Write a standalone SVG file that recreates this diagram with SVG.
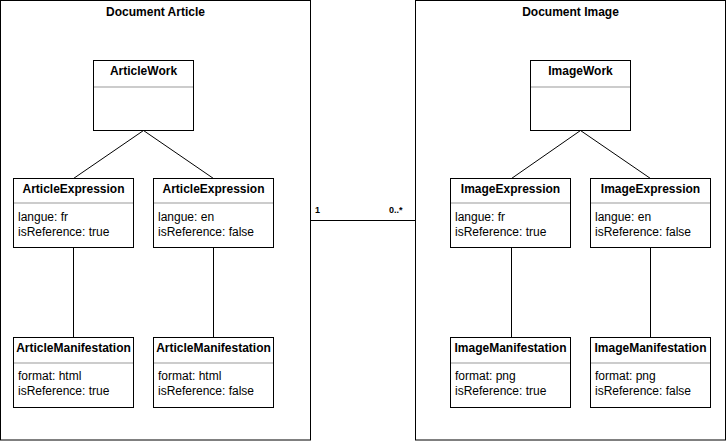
<svg xmlns="http://www.w3.org/2000/svg" width="727" height="444" viewBox="0 0 727 444">
<style>
.pkg{fill:#fff;stroke:#000;stroke-width:1}
.box{fill:#fff;stroke:#000;stroke-width:1}
.sep{stroke:#999;stroke-width:1}
.ln{stroke:#000;stroke-width:1;fill:none}
text{font-family:"Liberation Sans",Arial,sans-serif;font-size:12px;fill:#000}
.t{font-weight:bold;text-anchor:middle}
.m{font-weight:bold;font-size:9px}
</style>
<rect width="727" height="444" fill="#fff"/>
<g id="pkg-article">
<rect class="pkg" x="0.5" y="0.5" width="310" height="439.5"/>
<text class="t" x="155.5" y="16">Document Article</text>
</g>
<g id="pkg-image">
<rect class="pkg" x="415.5" y="0.5" width="310" height="439.5"/>
<text class="t" x="570.5" y="16">Document Image</text>
</g>
<g id="connectors">
<line class="ln" x1="143.5" y1="130.5" x2="73.5" y2="178.5"/>
<line class="ln" x1="143.5" y1="130.5" x2="213.5" y2="178.5"/>
<line class="ln" x1="73.5" y1="247.5" x2="73.5" y2="337.5"/>
<line class="ln" x1="213.5" y1="247.5" x2="213.5" y2="337.5"/>
<line class="ln" x1="580.5" y1="130.5" x2="511.5" y2="178.5"/>
<line class="ln" x1="580.5" y1="130.5" x2="650.5" y2="178.5"/>
<line class="ln" x1="511.5" y1="247.5" x2="511.5" y2="337.5"/>
<line class="ln" x1="650.5" y1="247.5" x2="650.5" y2="337.5"/>
<line class="ln" x1="310.5" y1="220.5" x2="415.5" y2="220.5"/>
<text class="m" x="315" y="213">1</text>
<text class="m" x="389" y="213">0..*</text>
</g>
<g id="ArticleWork">
<rect class="box" x="93.5" y="60.5" width="100" height="70"/>
<line class="sep" x1="94" y1="87" x2="193" y2="87"/>
<text class="t" x="143.5" y="75">ArticleWork</text>
</g>
<g id="ArticleExpression-fr">
<rect class="box" x="13.5" y="178.5" width="120" height="69"/>
<line class="sep" x1="14" y1="203" x2="133" y2="203"/>
<text class="t" x="73.5" y="193">ArticleExpression</text>
<text x="18" y="221">langue: fr</text>
<text x="18" y="236">isReference: true</text>
</g>
<g id="ArticleExpression-en">
<rect class="box" x="153.5" y="178.5" width="120" height="69"/>
<line class="sep" x1="154" y1="203" x2="273" y2="203"/>
<text class="t" x="213.5" y="193">ArticleExpression</text>
<text x="158" y="221">langue: en</text>
<text x="158" y="236">isReference: false</text>
</g>
<g id="ArticleManifestation-html-true">
<rect class="box" x="13.5" y="337.5" width="120" height="70"/>
<line class="sep" x1="14" y1="363" x2="133" y2="363"/>
<text class="t" x="73.5" y="352">ArticleManifestation</text>
<text x="18" y="380">format: html</text>
<text x="18" y="395">isReference: true</text>
</g>
<g id="ArticleManifestation-html-false">
<rect class="box" x="153.5" y="337.5" width="120" height="70"/>
<line class="sep" x1="154" y1="363" x2="273" y2="363"/>
<text class="t" x="213.5" y="352">ArticleManifestation</text>
<text x="158" y="380">format: html</text>
<text x="158" y="395">isReference: false</text>
</g>
<g id="ImageWork">
<rect class="box" x="530.5" y="60.5" width="100" height="70"/>
<line class="sep" x1="531" y1="87" x2="630" y2="87"/>
<text class="t" x="580.5" y="75">ImageWork</text>
</g>
<g id="ImageExpression-fr">
<rect class="box" x="450.5" y="178.5" width="120" height="69"/>
<line class="sep" x1="451" y1="203" x2="570" y2="203"/>
<text class="t" x="510.5" y="193">ImageExpression</text>
<text x="455" y="221">langue: fr</text>
<text x="455" y="236">isReference: true</text>
</g>
<g id="ImageExpression-en">
<rect class="box" x="590.5" y="178.5" width="120" height="69"/>
<line class="sep" x1="591" y1="203" x2="710" y2="203"/>
<text class="t" x="650.5" y="193">ImageExpression</text>
<text x="595" y="221">langue: en</text>
<text x="595" y="236">isReference: false</text>
</g>
<g id="ImageManifestation-png-true">
<rect class="box" x="450.5" y="337.5" width="120" height="70"/>
<line class="sep" x1="451" y1="363" x2="570" y2="363"/>
<text class="t" x="510.5" y="352">ImageManifestation</text>
<text x="455" y="380">format: png</text>
<text x="455" y="395">isReference: true</text>
</g>
<g id="ImageManifestation-png-false">
<rect class="box" x="590.5" y="337.5" width="120" height="70"/>
<line class="sep" x1="591" y1="363" x2="710" y2="363"/>
<text class="t" x="650.5" y="352">ImageManifestation</text>
<text x="595" y="380">format: png</text>
<text x="595" y="395">isReference: false</text>
</g>
</svg>
